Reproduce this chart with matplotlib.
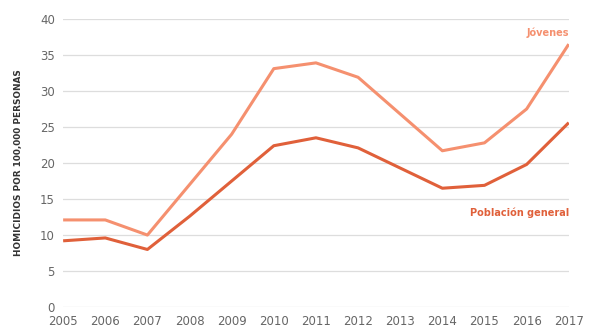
import matplotlib.pyplot as plt

years = list(range(2005, 2018))
jovenes = [12.1, 12.1, 10.0, 17.0, 24.0, 33.1, 33.9, 31.9, 26.8, 21.7, 22.8, 27.5, 36.5]
general = [9.2, 9.6, 8.0, 12.6, 17.5, 22.4, 23.5, 22.1, 19.3, 16.5, 16.9, 19.8, 25.6]
yticks = [0, 5, 10, 15, 20, 25, 30, 35, 40]

c_jov = '#F5906F'
c_gen = '#E0603A'

fig = plt.figure(figsize=(5.9, 3.32), dpi=100)
ax = fig.add_axes([0.107, 0.075, 0.857, 0.868])

ax.plot(years, jovenes, color=c_jov, lw=2.2, solid_capstyle='butt')
ax.plot(years, general, color=c_gen, lw=2.2, solid_capstyle='butt')

ax.set_xlim(2005, 2017)
ax.set_ylim(0, 40)
ax.set_yticks(yticks)
ax.set_xticks(years)
ax.grid(axis='y', color='#dddddd', lw=0.9)
ax.set_axisbelow(True)
for s in ax.spines.values():
    s.set_visible(False)
ax.tick_params(length=0, labelcolor='#666666', labelsize=8.5)
ax.tick_params(axis='y', pad=6)
ax.tick_params(axis='x', pad=6)

ax.set_ylabel('HOMICIDIOS POR 100,000 PERSONAS', fontsize=6.4, fontweight='bold',
              color='#333333', family='Liberation Sans Narrow', labelpad=12)

ax.text(2017, 38.1, 'Jóvenes', color=c_jov, fontsize=7, fontweight='bold',
        ha='right', va='center')
ax.text(2017, 13.1, 'Población general', color=c_gen, fontsize=7, fontweight='bold',
        ha='right', va='center')

fig.savefig('out.png', dpi=100)
